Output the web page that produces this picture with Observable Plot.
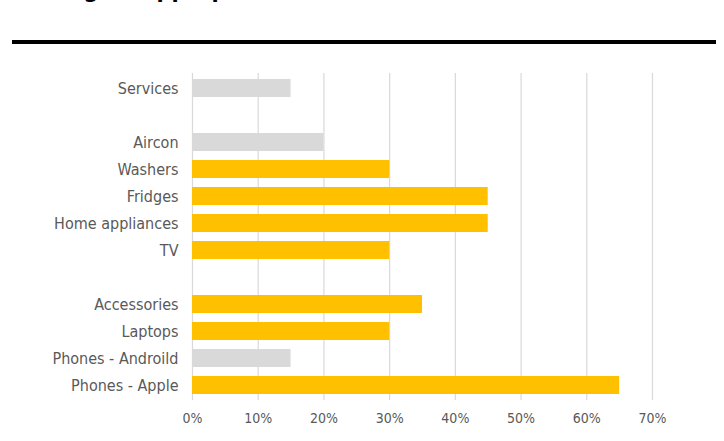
<!DOCTYPE html>
<html>
<head>
<meta charset="utf-8">
<script src="https://cdn.jsdelivr.net/npm/d3@7"></script>
<script src="https://cdn.jsdelivr.net/npm/@observablehq/plot@0.6"></script>
<style>
  html, body { margin: 0; padding: 0; background: #fff; width: 724px; height: 441px; overflow: hidden; }
  #title { position: absolute; left: 12px; top: -21px; font: bold 21px "DejaVu Sans", sans-serif; line-height: normal; color: #000; white-space: nowrap; }
  #rule { position: absolute; left: 12px; top: 40px; width: 704px; height: 4px; background: #000; }
  #chart { position: absolute; left: 0; top: 50px; }
</style>
</head>
<body>
<div id="title">Setting an appropriate</div>
<div id="rule"></div>
<div id="chart"></div>
<script>
const categories = ["Services", "gap1", "Aircon", "Washers", "Fridges", "Home appliances", "TV", "gap2", "Accessories", "Laptops", "Phones - Androild", "Phones - Apple"];
const values = [0.15, null, 0.20, 0.30, 0.45, 0.45, 0.30, null, 0.35, 0.30, 0.15, 0.65];
const highlighted = [false, null, false, true, true, true, true, null, true, true, false, true];
const xTicks = [0, 0.1, 0.2, 0.3, 0.4, 0.5, 0.6, 0.7];

const data = categories
  .map((c, i) => ({category: c, value: values[i], hi: highlighted[i]}))
  .filter(d => d.value != null);

const chart = Plot.plot({
  width: 724,
  height: 391,
  marginTop: 23,
  marginBottom: 41,
  marginLeft: 192,
  marginRight: 72,
  style: {fontFamily: "'DejaVu Sans Condensed', 'DejaVu Sans', sans-serif", fontSize: "16px", color: "#595959", background: "#fff"},
  x: {domain: [0, 0.7]},
  y: {domain: categories, paddingInner: 0.33, paddingOuter: 0.14},
  marks: [
    Plot.gridX(xTicks, {stroke: "#d9d9d9", strokeOpacity: 1, strokeWidth: 1.2}),
    Plot.barX(data, {x: "value", y: "category", fill: d => d.hi ? "#ffc000" : "#d9d9d9"}),
    Plot.axisX(xTicks, {tickSize: 0, tickPadding: 13, label: null, fontSize: 14, tickFormat: d => Math.round(d * 100) + "%", fill: "#595959"}),
    Plot.axisY({tickSize: 0, tickPadding: 14, label: null, tickFormat: d => d.startsWith("gap") ? "" : d, fill: "#595959"})
  ]
});
document.getElementById("chart").appendChild(chart);
</script>
</body>
</html>
